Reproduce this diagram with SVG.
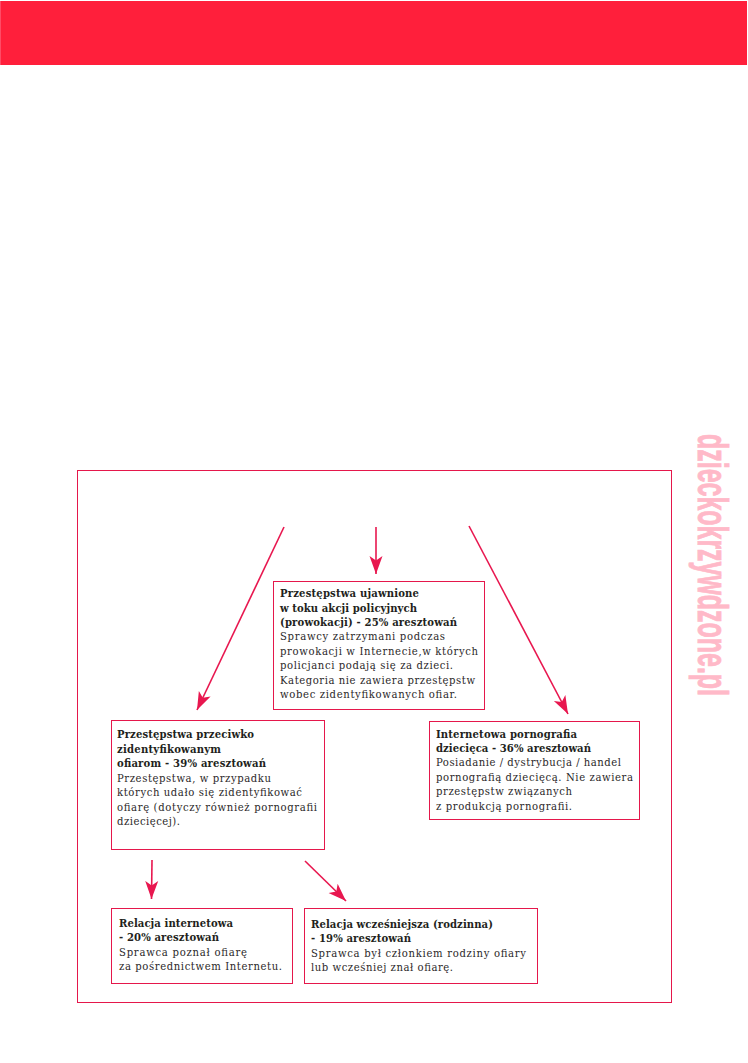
<svg xmlns="http://www.w3.org/2000/svg" width="748" height="1063" viewBox="0 0 748 1063">
<style>
.box{fill:#fff;stroke:#E5174B;stroke-width:1}
.con{fill:none;stroke:#E8174F;stroke-width:1.6;marker-end:url(#head)}
text{font-family:"DejaVu Serif Condensed","DejaVu Serif","Liberation Serif",serif;font-size:11.2px;fill:#2b2829}
.b{font-weight:bold;fill:#231f20}
.wm{font-family:"Liberation Sans",Arial,sans-serif;font-weight:bold;font-size:42px;fill:#FFB9C8;stroke:#FFB9C8;stroke-width:.9}
</style>
<defs>
<marker id="head" markerUnits="userSpaceOnUse" markerWidth="22" markerHeight="16" refX="18" refY="7" orient="auto">
<path d="M18,7 L0,0.5 L4.5,7 L0,13.5 Z" fill="#E8174F"/>
</marker>
</defs>
<rect width="748" height="1063" fill="#fff"/>
<g id="banner">
<rect x="1" y="1" width="746" height="64" fill="#FF1F3B"/>
<rect x="0" y="1" width="1" height="64" fill="#FF4B66"/>
</g>
<text class="wm" transform="translate(698,434) rotate(90)" textLength="262" lengthAdjust="spacingAndGlyphs">dzieckokrzywdzone.pl</text>
<rect id="frame" class="box" x="77.5" y="470.5" width="594" height="532" style="fill:none"/>
<g id="connectors">
<path class="con" d="M284,527 L197,710"/>
<path class="con" d="M376,527 L376,574"/>
<path class="con" d="M469,526 L568,714"/>
<path class="con" d="M152,860 L151.5,899"/>
<path class="con" d="M305,861 L346,901"/>
</g>
<g id="node-prowokacje">
<rect class="box" x="273.5" y="581.5" width="211" height="128"/>
<text class="b" x="280" y="597" textLength="139">Przestępstwa ujawnione</text>
<text class="b" x="280" y="611.5" textLength="137">w toku akcji policyjnych</text>
<text class="b" x="280" y="626" textLength="177">(prowokacji) - 25% aresztowań</text>
<text x="280" y="640" textLength="165">Sprawcy zatrzymani podczas</text>
<text x="280" y="654.5" textLength="198">prowokacji w Internecie,w których</text>
<text x="280" y="669" textLength="173">policjanci podają się za dzieci.</text>
<text x="280" y="683.5" textLength="195">Kategoria nie zawiera przestępstw</text>
<text x="280" y="698" textLength="177">wobec zidentyfikowanych ofiar.</text>
</g>
<g id="node-ofiary">
<rect class="box" x="111.5" y="720.5" width="213" height="129"/>
<text class="b" x="117" y="738" textLength="137">Przestępstwa przeciwko</text>
<text class="b" x="117" y="752.5" textLength="104">zidentyfikowanym</text>
<text class="b" x="117" y="767" textLength="149">ofiarom - 39% aresztowań</text>
<text x="117" y="781.5" textLength="154">Przestępstwa, w przypadku</text>
<text x="117" y="796" textLength="185">których udało się zidentyfikować</text>
<text x="117" y="810.5" textLength="200">ofiarę (dotyczy również pornografii</text>
<text x="117" y="825" textLength="63">dziecięcej).</text>
</g>
<g id="node-pornografia">
<rect class="box" x="429.5" y="721.5" width="210" height="98"/>
<text class="b" x="436" y="737.5" textLength="141">Internetowa pornografia</text>
<text class="b" x="436" y="752" textLength="155">dziecięca - 36% aresztowań</text>
<text x="436" y="766" textLength="185">Posiadanie / dystrybucja / handel</text>
<text x="436" y="780.5" textLength="197">pornografią dziecięcą. Nie zawiera</text>
<text x="436" y="795" textLength="136">przestępstw związanych</text>
<text x="436" y="809.5" textLength="136">z produkcją pornografii.</text>
</g>
<g id="node-internetowa">
<rect class="box" x="111.5" y="908.5" width="181" height="75"/>
<text class="b" x="119" y="927" textLength="114">Relacja internetowa</text>
<text class="b" x="119" y="941" textLength="100">- 20% aresztowań</text>
<text x="119" y="956" textLength="128">Sprawca poznał ofiarę</text>
<text x="119" y="970" textLength="163">za pośrednictwem Internetu.</text>
</g>
<g id="node-rodzinna">
<rect class="box" x="304.5" y="908.5" width="233" height="75"/>
<text class="b" x="311" y="928" textLength="182">Relacja wcześniejsza (rodzinna)</text>
<text class="b" x="311" y="942" textLength="100">- 19% aresztowań</text>
<text x="311" y="957" textLength="215">Sprawca był członkiem rodziny ofiary</text>
<text x="311" y="971" textLength="142">lub wcześniej znał ofiarę.</text>
</g>
</svg>
